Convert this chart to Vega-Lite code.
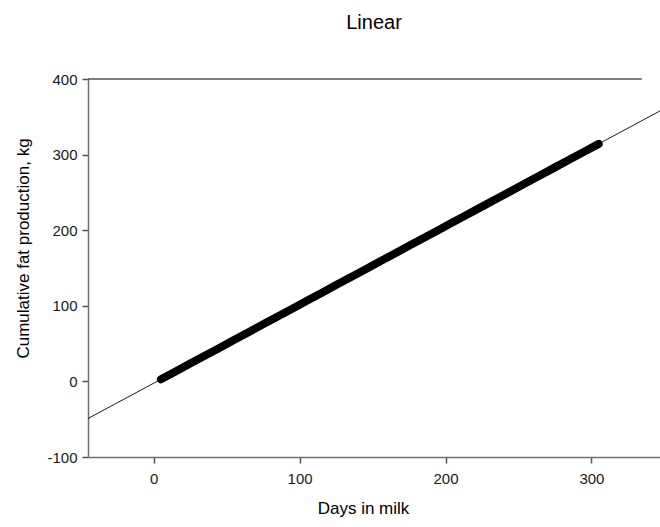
{
  "$schema": "https://vega.github.io/schema/vega-lite/v6.json",
  "width": 572,
  "height": 378,
  "autosize": "none",
  "padding": {"left": 88, "top": 79, "right": 0, "bottom": 70},
  "background": "white",
  "title": {"text": "Linear", "font": "Liberation Sans", "fontSize": 20, "fontWeight": "normal", "color": "#000000", "anchor": "middle", "frame": "group", "baseline": "bottom", "offset": 19},
  "config": {
    "view": {"stroke": null},
    "font": "Liberation Sans",
    "axis": {"grid": false, "domainColor": "#707070", "domainWidth": 1.5, "tickColor": "#505050", "tickWidth": 1.5, "tickSize": 6, "labelFont": "Liberation Sans", "labelFontSize": 15, "labelColor": "#1a1a1a", "titleFont": "Liberation Sans", "titleFontSize": 17, "titleFontWeight": "normal", "titleColor": "#000000"}
  },
  "datasets": {
    "observed": [
      {"day": 5, "fat": 2.8}, {"day": 15, "fat": 13.2}, {"day": 25, "fat": 23.6}, {"day": 35, "fat": 33.9},
      {"day": 45, "fat": 44.3}, {"day": 55, "fat": 54.7}, {"day": 65, "fat": 65.1}, {"day": 75, "fat": 75.5},
      {"day": 85, "fat": 85.8}, {"day": 95, "fat": 96.2}, {"day": 105, "fat": 106.6}, {"day": 115, "fat": 117.0},
      {"day": 125, "fat": 127.4}, {"day": 135, "fat": 137.7}, {"day": 145, "fat": 148.1}, {"day": 155, "fat": 158.5},
      {"day": 165, "fat": 168.9}, {"day": 175, "fat": 179.3}, {"day": 185, "fat": 189.6}, {"day": 195, "fat": 200.0},
      {"day": 205, "fat": 210.4}, {"day": 215, "fat": 220.8}, {"day": 225, "fat": 231.2}, {"day": 235, "fat": 241.5},
      {"day": 245, "fat": 251.9}, {"day": 255, "fat": 262.3}, {"day": 265, "fat": 272.7}, {"day": 275, "fat": 283.1},
      {"day": 285, "fat": 293.4}, {"day": 295, "fat": 303.8}, {"day": 305, "fat": 314.2}
    ],
    "fit": [
      {"day": -45, "fat": -49.1},
      {"day": 350, "fat": 360.9}
    ],
    "frame": [
      {"start": -45, "end": 334.5, "level": 400}
    ]
  },
  "layer": [
    {
      "data": {"name": "frame"},
      "mark": {"type": "rule", "color": "#000000", "strokeWidth": 1.2},
      "encoding": {
        "x": {"field": "start", "type": "quantitative", "scale": {"domain": [-45, 347]}},
        "x2": {"field": "end"},
        "y": {"field": "level", "type": "quantitative", "scale": {"domain": [-100, 400]}}
      }
    },
    {
      "data": {"name": "fit"},
      "mark": {"type": "line", "color": "#000000", "strokeWidth": 0.9, "clip": true},
      "encoding": {
        "x": {"field": "day", "type": "quantitative"},
        "y": {"field": "fat", "type": "quantitative"}
      }
    },
    {
      "data": {"name": "observed"},
      "mark": {"type": "line", "color": "#000000", "strokeWidth": 8, "strokeCap": "round", "strokeJoin": "round"},
      "encoding": {
        "x": {"field": "day", "type": "quantitative", "scale": {"domain": [-45, 347], "nice": false, "zero": false},
          "axis": {"values": [0, 100, 200, 300], "title": "Days in milk", "labelPadding": 8, "titlePadding": 14, "titleX": 275, "offset": 0}},
        "y": {"field": "fat", "type": "quantitative", "scale": {"domain": [-100, 400], "nice": false, "zero": false},
          "axis": {"values": [-100, 0, 100, 200, 300, 400], "labelExpr": "datum.value < 0 ? '-' + abs(datum.value) : datum.label", "title": "Cumulative fat production, kg", "labelPadding": 5, "titlePadding": 14, "titleY": 169}}
      }
    }
  ]
}
